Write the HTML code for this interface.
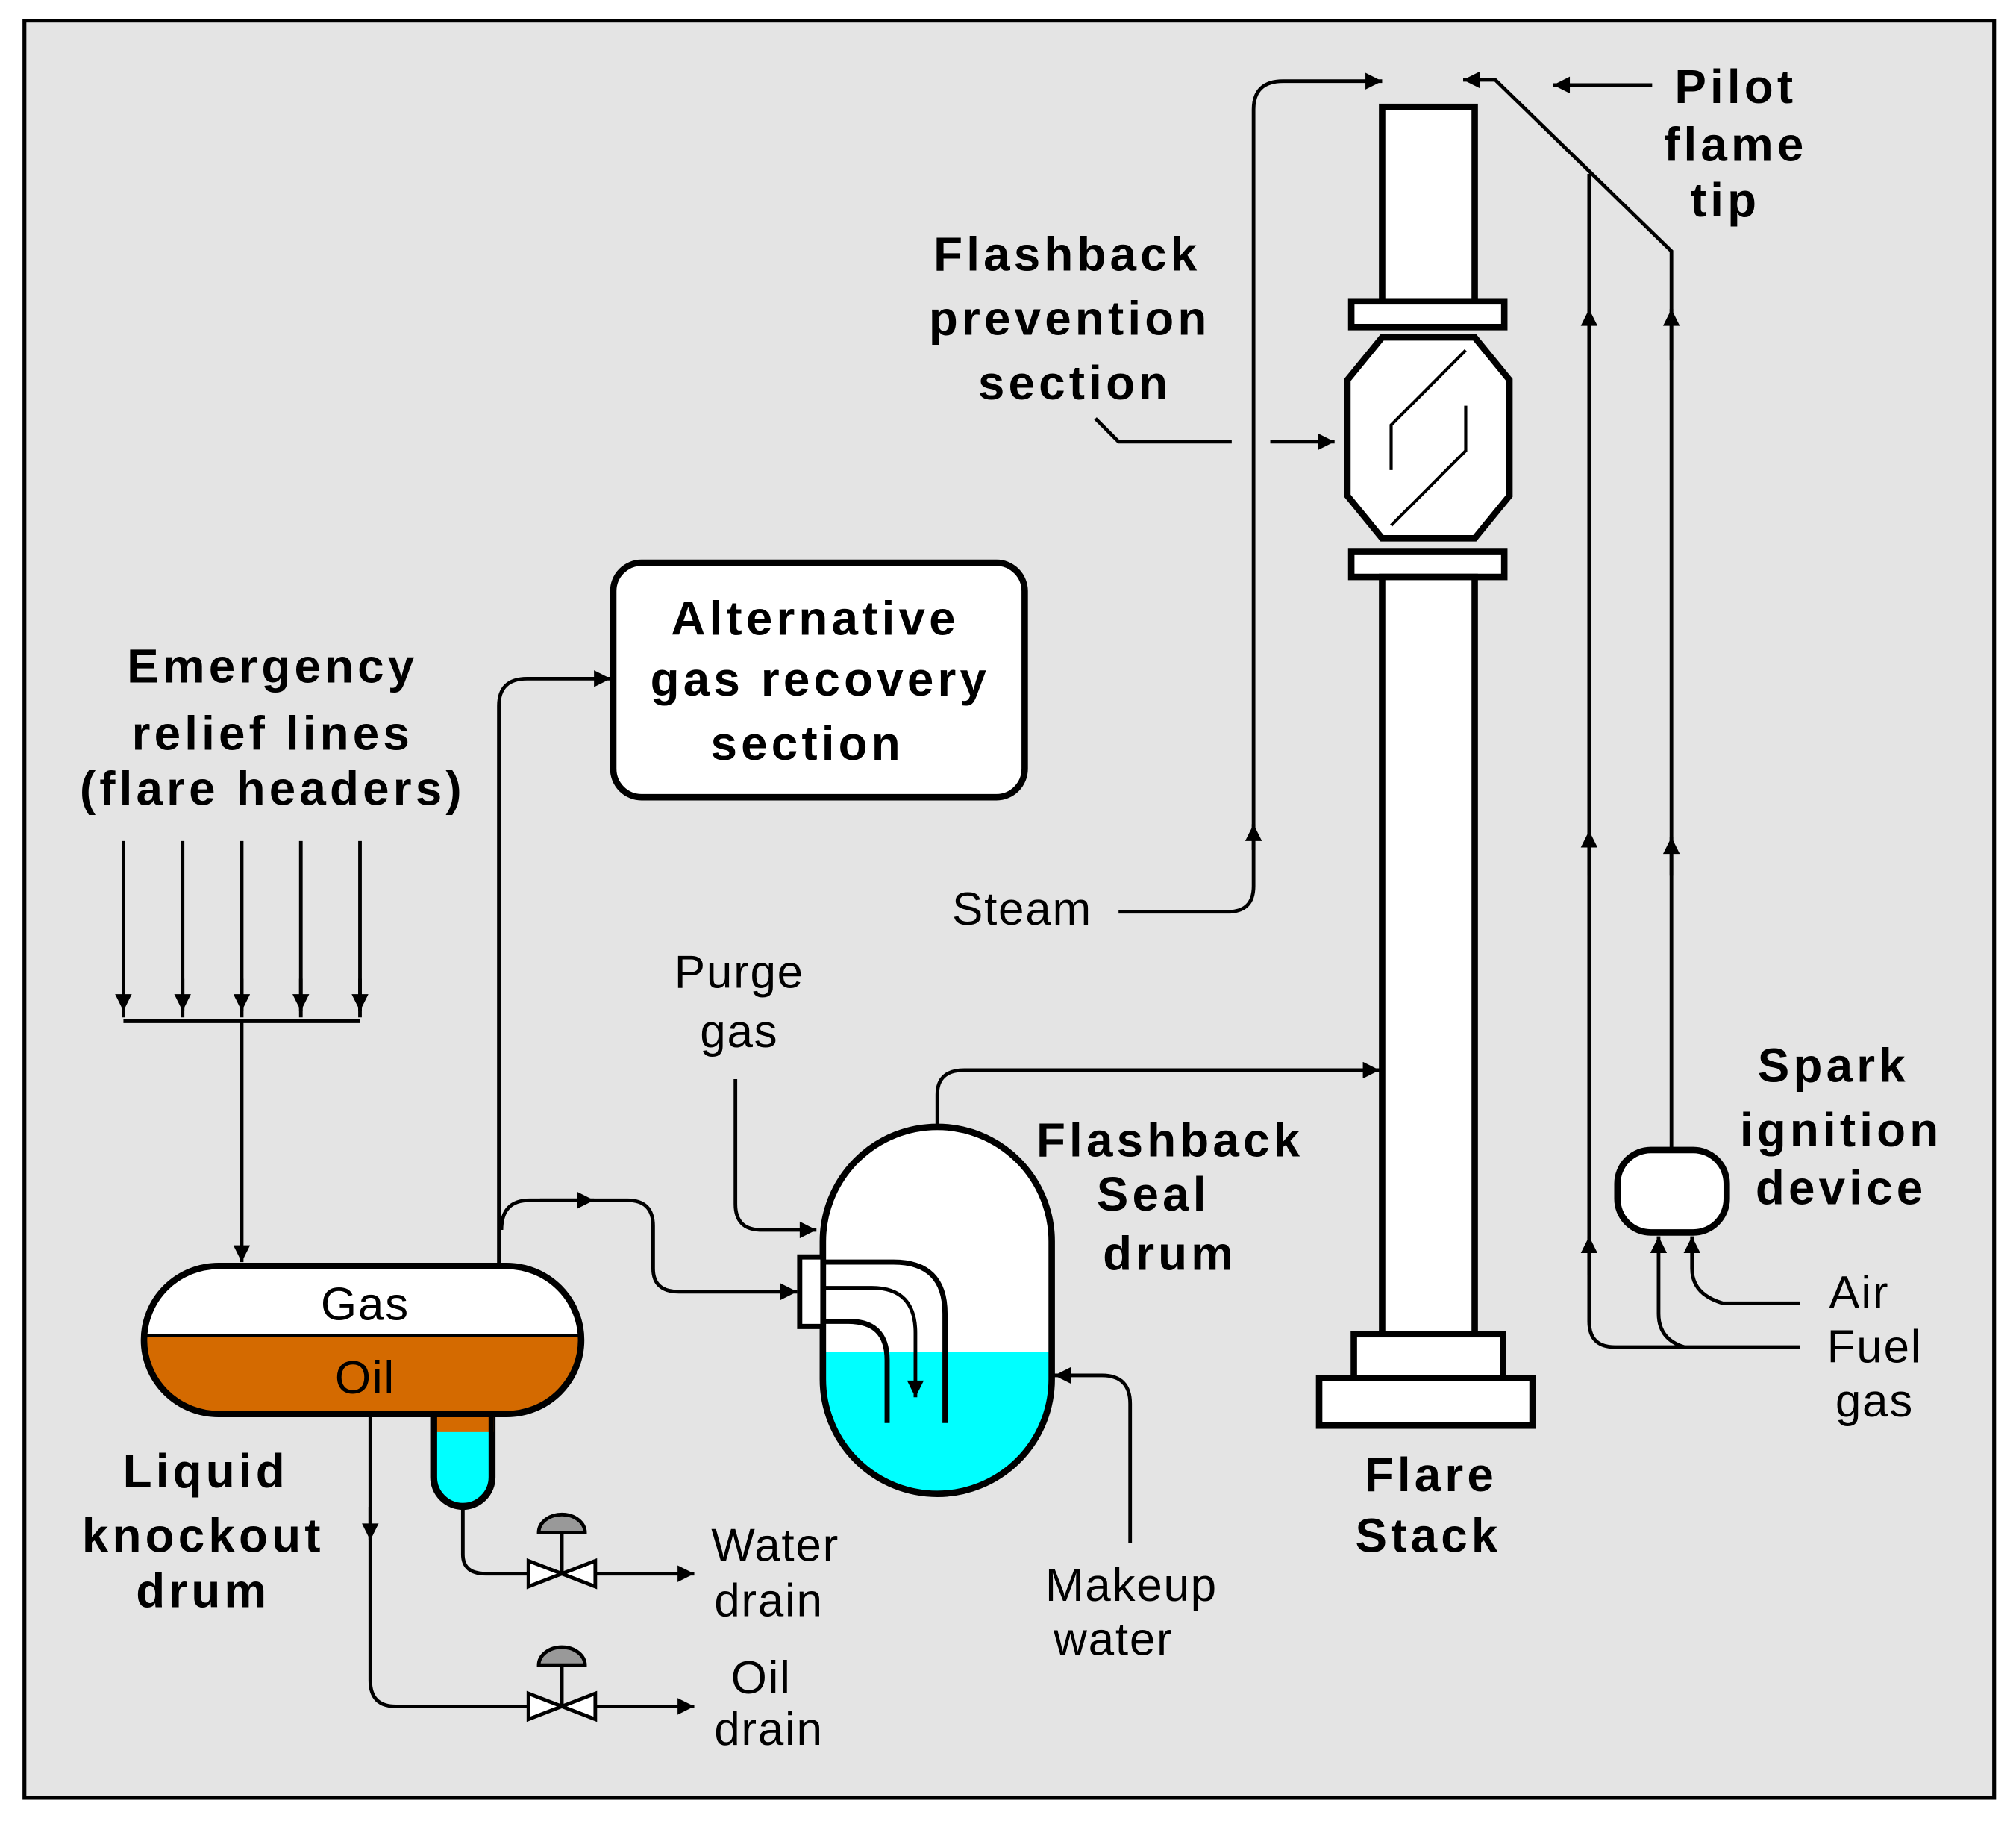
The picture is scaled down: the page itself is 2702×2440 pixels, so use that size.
<!DOCTYPE html>
<html><head><meta charset="utf-8"><style>
html,body{margin:0;padding:0;background:#fff;}
svg{display:block;}
.b{font-family:"Liberation Sans",sans-serif;font-weight:bold;font-size:37px;fill:#000;text-anchor:middle;letter-spacing:3px;}
.n{font-family:"Liberation Sans",sans-serif;font-size:36px;fill:#000;text-anchor:middle;letter-spacing:1px;}
</style></head><body>
<svg width="2702" height="2440" viewBox="0 0 1568 1414" preserveAspectRatio="none" xmlns="http://www.w3.org/2000/svg">
<defs>
<marker id="a" viewBox="0 0 10 10" refX="10" refY="5" markerWidth="15" markerHeight="13" markerUnits="userSpaceOnUse" orient="auto"><path d="M0,0 L10,5 L0,10 z" fill="#000"/></marker>
</defs>
<rect x="0" y="0" width="1568" height="1414" fill="#fff"/>
<rect x="19" y="16" width="1532" height="1380" fill="#e4e4e4" stroke="#000" stroke-width="3"/>
<g fill="none" stroke="#000" stroke-width="2.8">
<rect x="1075" y="83" width="72" height="152" fill="#fff" stroke-width="5"/>
<rect x="1051" y="234" width="119" height="20" fill="#fff" stroke-width="5"/>
<path d="M1075,262 L1147,262 L1174,295 L1174,385 L1147,418 L1075,418 L1048,385 L1048,295 Z" fill="#fff" stroke-width="5"/>
<path d="M1082,365 L1082,330 L1140,272 M1140,315 L1140,350 L1082,408" stroke-width="2.4"/>
<rect x="1051" y="428" width="119" height="20" fill="#fff" stroke-width="5"/>
<rect x="1075" y="448" width="72" height="588" fill="#fff" stroke-width="5"/>
<rect x="1053" y="1036" width="116" height="34" fill="#fff" stroke-width="5"/>
<rect x="1026" y="1070" width="166" height="37" fill="#fff" stroke-width="5"/>
<path d="M870,708 L955,708 Q975,708 975,688 L975,85 Q975,63 998,63 L1075,63" marker-end="url(#a)"/>
<path d="M975,660 L975,640" marker-end="url(#a)"/>
<path d="M852,325 L870,343 L958,343"/>
<path d="M988,343 L1038,343" marker-end="url(#a)"/>
<path d="M1285,66 L1208,66" marker-end="url(#a)"/>
<path d="M1300,893 L1300,195 L1163,62 L1138,62" marker-end="url(#a)"/>
<path d="M1300,680 L1300,650" marker-end="url(#a)"/>
<path d="M1300,280 L1300,240" marker-end="url(#a)"/>
<path d="M1400,1046 L1256,1046 Q1236,1046 1236,1026 L1236,135"/>
<path d="M1236,990 L1236,960" marker-end="url(#a)"/>
<path d="M1236,680 L1236,645" marker-end="url(#a)"/>
<path d="M1236,280 L1236,240" marker-end="url(#a)"/>
<path d="M1310,1046 Q1290,1040 1290,1020 L1290,960" marker-end="url(#a)"/>
<path d="M1400,1012 L1340,1012 Q1316,1005 1316,985 L1316,960" marker-end="url(#a)"/>
<rect x="1258" y="893" width="85" height="64" rx="26" fill="#fff" stroke-width="5"/>
<path d="M96,653 L96,790 M142,653 L142,790 M188,653 L188,790 M234,653 L234,790 M280,653 L280,790"/>
<path d="M96,760 L96,785" marker-end="url(#a)"/><path d="M142,760 L142,785" marker-end="url(#a)"/><path d="M188,760 L188,785" marker-end="url(#a)"/><path d="M234,760 L234,785" marker-end="url(#a)"/><path d="M280,760 L280,785" marker-end="url(#a)"/>
<path d="M96,793 L280,793"/>
<path d="M188,793 L188,980" marker-end="url(#a)"/>
<path d="M388,982 L388,548 Q388,527 410,527 L475,527" marker-end="url(#a)"/>
<rect x="477" y="437" width="320" height="182" rx="22" fill="#fff" stroke-width="5"/>
<path d="M170,983 L394,983 A58,58 0 0 1 452,1037 L112,1037 A58,58 0 0 1 170,983 Z" fill="#fff" stroke="none"/>
<path d="M112,1037 L452,1037 A58,58 0 0 1 394,1098 L170,1098 A58,58 0 0 1 112,1037 Z" fill="#d46a00"/>
<path d="M336,1098 L336,1147 A24,24 0 0 0 384,1147 L384,1098" fill="#00ffff"/>
<path d="M336,1098 L336,1112 L384,1112 L384,1098 Z" fill="#d46a00" stroke="none"/>
<rect x="112" y="983" width="340" height="115" rx="58" stroke-width="5"/>
<path d="M338,1098 L338,1147 A22,22 0 0 0 382,1147 L382,1098" stroke-width="4"/>
<path d="M390,955 Q390,932 412,932 L488,932 Q508,932 508,952 L508,985 Q508,1003 528,1003 L620,1003" marker-end="url(#a)"/>
<path d="M420,932 L462,932" marker-end="url(#a)"/>
<path d="M572,838 L572,935 Q572,955 592,955 L635,955" marker-end="url(#a)"/>
<path d="M640,1050 L818,1050 L818,1071 A89,89 0 0 1 640,1071 Z" fill="#00ffff" stroke="none"/>
<path d="M640,964 A89,89 0 0 1 818,964 L818,1050 L640,1050 Z" fill="#fff" stroke="none"/>
<path d="M640,964 A89,89 0 0 1 818,964 L818,1071 A89,89 0 0 1 640,1071 Z" stroke-width="5"/>
<path d="M622,976 L622,1030 L640,1030 L640,976 Z" fill="#fff" stroke-width="4"/>
<path d="M640,980 L695,980 Q735,980 735,1020 L735,1105 M640,1026 L660,1026 Q690,1026 690,1056 L690,1105" stroke-width="4"/>
<path d="M640,1000 L678,1000 Q712,1000 712,1035 L712,1085" marker-end="url(#a)"/>
<path d="M729,875 L729,850 Q729,831 750,831 L1073,831" marker-end="url(#a)"/>
<path d="M879,1198 L879,1090 Q879,1068 857,1068 L820,1068" marker-end="url(#a)"/>
<path d="M360,1172 L360,1207 Q360,1222 378,1222 L540,1222" marker-end="url(#a)"/>
<path d="M288,1100 L288,1305 Q288,1325 308,1325 L540,1325" marker-end="url(#a)"/>
<path d="M288,1170 L288,1196" marker-end="url(#a)"/>
<g fill="#fff">
<path d="M411,1212 L437,1222 L411,1232 Z M463,1212 L437,1222 L463,1232 Z"/>
<path d="M411,1315 L437,1325 L411,1335 Z M463,1315 L437,1325 L463,1335 Z"/>
</g>
<path d="M437,1222 L437,1190 M437,1325 L437,1293"/>
<path d="M419,1190 A18,14 0 0 1 455,1190 Z M419,1293 A18,14 0 0 1 455,1293 Z" fill="#999"/>
</g>
<g class="b">
<text x="830" y="210">Flashback</text>
<text x="832" y="260">prevention</text>
<text x="836" y="310">section</text>
<text x="1350" y="80">Pilot</text>
<text x="1350" y="125">flame</text>
<text x="1342" y="168">tip</text>
<text x="634" y="493">Alternative</text>
<text x="638" y="540">gas recovery</text>
<text x="628" y="590">section</text>
<text x="212" y="530">Emergency</text>
<text x="212" y="582">relief lines</text>
<text x="212" y="625">(flare headers)</text>
<text x="910" y="898">Flashback</text>
<text x="897" y="940">Seal</text>
<text x="910" y="986">drum</text>
<text x="1426" y="840">Spark</text>
<text x="1432" y="890">ignition</text>
<text x="1432" y="935">device</text>
<text x="1113" y="1158">Flare</text>
<text x="1111" y="1205">Stack</text>
<text x="160" y="1155">Liquid</text>
<text x="158" y="1205">knockout</text>
<text x="158" y="1248">drum</text>
</g>
<g class="n">
<text x="284" y="1025">Gas</text>
<text x="284" y="1082">Oil</text>
<text x="795" y="718">Steam</text>
<text x="575" y="767">Purge</text>
<text x="575" y="813">gas</text>
<text x="603" y="1212">Water</text>
<text x="598" y="1255">drain</text>
<text x="592" y="1315">Oil</text>
<text x="598" y="1355">drain</text>
<text x="880" y="1243">Makeup</text>
<text x="866" y="1285">water</text>
<text x="1446" y="1016">Air</text>
<text x="1458" y="1058">Fuel</text>
<text x="1458" y="1100">gas</text>
</g>
</svg>
</body></html>
